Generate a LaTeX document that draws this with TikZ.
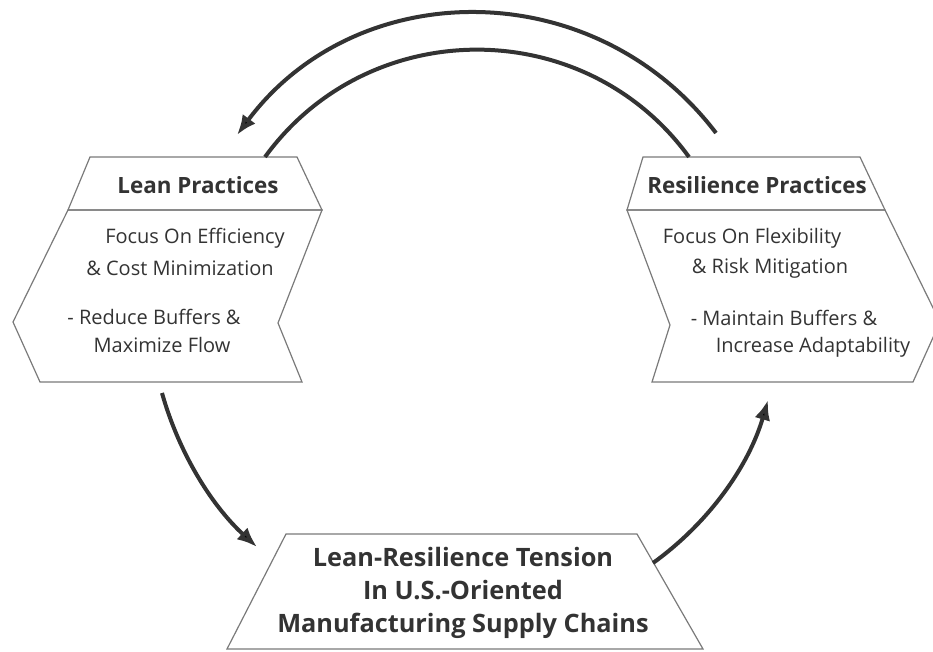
\documentclass[tikz,border=0pt]{standalone}
\usepackage{fontspec}
\setmainfont{Open Sans}
\usepackage{tikz}
\usetikzlibrary{positioning, arrows.meta, calc}
\definecolor{ink}{HTML}{333333}
\definecolor{rim}{HTML}{7A7A7A}
\tikzstyle{hd}=[%
      inner sep=0pt, text=ink, align=center,
      font=\bfseries\fontsize{16.8}{20}\selectfont
]
\tikzstyle{big}=[%
      inner sep=0pt, text=ink, align=center,
      font=\bfseries\fontsize{19}{24.75}\selectfont
]
\tikzstyle{tx}=[%
      inner sep=0pt, text=ink, font=\fontsize{15}{18}\selectfont
]
\tikzstyle{bx}=[%
      draw=rim, line width=0.9pt, line join=miter
]
\tikzstyle{cyc}=[%
      draw=ink, line width=3pt
]

\begin{document}
\begin{tikzpicture}[x=0.75pt, y=0.75pt,
    >={Latex[length=15pt,width=12pt]},
]
    \useasboundingbox (0,0) rectangle (933,651);
    \clip (0,0) rectangle (933,651);

    % lean box: header on top of a chevron pointing left
    \draw[bx] (90,494) -- (297,494) -- (322,441) -- (68,441) -- cycle;
    \draw[bx] (68,441) -- (322,441) -- (278,328) -- (302,269)
              -- (40,269) -- (13,329) -- cycle;
    % resilience box: the chevron points right
    \draw[bx] (643,494) -- (860,494) -- (885,441) -- (627,441) -- cycle;
    \draw[bx] (627,441) -- (885,441) -- (940,329) -- (913,269)
              -- (652,269) -- (670,326) -- cycle;
    % tension box
    \draw[bx] (286,117) -- (637,117) -- (703,2) -- (227,2) -- cycle;

    \node[hd] (l0) at (198,466) {Lean Practices};
    \node[tx] (l1) at (195,413) {Focus On Efficiency};
    \node[tx] (l2) at (180,383) {\& Cost Minimization};
    \node[tx] (l3) at (154,334) {- Reduce Buffers \&};
    \node[tx] (l4) at (162,306) {Maximize Flow};

    \node[hd] (r0) at (757,466) {Resilience Practices};
    \node[tx] (r1) at (752,413) {Focus On Flexibility};
    \node[tx] (r2) at (770,383) {\& Risk Mitigation};
    \node[tx] (r3) at (784,333) {- Maintain Buffers \&};
    \node[tx] (r4) at (813,304) {Increase Adaptability};

    \node[big] (t0) at (463,58) {Lean-Resilience Tension\\In U.S.-Oriented\\Manufacturing Supply Chains};

    % arc ends
    \coordinate (a0) at (716,518);
    \coordinate (a1) at (237,516);
    \coordinate (b0) at (265,494);
    \coordinate (b1) at (689,494);
    \coordinate (c0) at (162,258);
    \coordinate (c1) at (257,104);
    \coordinate (d0) at (653,88);
    \coordinate (d1) at (768,251);

    \path[cyc] (a0) edge[->, bend right=53, looseness=1.07] (a1)
               (b0) edge[bend left=54, looseness=1.07] (b1)
               (c0) edge[->, bend right=16, looseness=0.87] (c1)
               (d0) edge[->, bend right=19, looseness=0.88] (d1)
    ;
\end{tikzpicture}
\end{document}
